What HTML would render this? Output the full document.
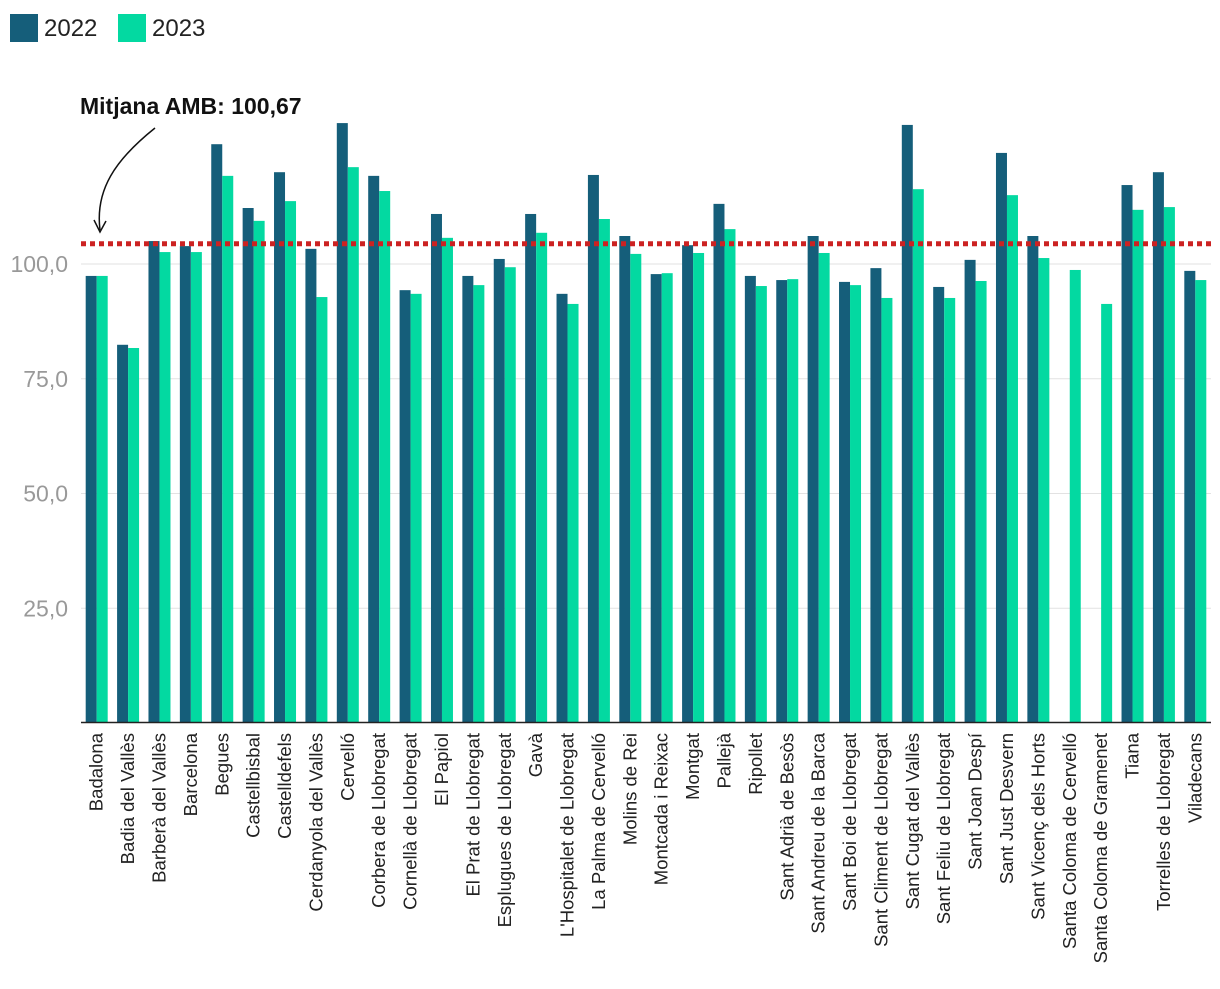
<!DOCTYPE html>
<html><head><meta charset="utf-8"><style>
body{margin:0;background:#fff;font-family:"Liberation Sans",sans-serif;}
svg text{font-family:"Liberation Sans",sans-serif;}
</style></head><body>
<svg id="chart" width="1220" height="984" xmlns="http://www.w3.org/2000/svg">
<g>
<rect x="10" y="14" width="28" height="28" fill="#155e7a"/>
<text x="44" y="36" font-size="24" fill="#222">2022</text>
<rect x="118" y="14" width="28" height="28" fill="#03d9a1"/>
<text x="152" y="36" font-size="24" fill="#222">2023</text>
</g>
<g id="grid"></g><g id="bars"></g><g id="xlabels"></g>
<line x1="81" y1="722.5" x2="1211" y2="722.5" stroke="#222" stroke-width="1.5"/>
<g id="mean"></g>
<text x="80" y="114" font-size="23" font-weight="bold" fill="#111">Mitjana AMB: 100,67</text>
<path d="M155,128 C115,160 95,190 100,230" fill="none" stroke="#111" stroke-width="1.5"/>
<path d="M94,220 L100,232 L106,221" fill="none" stroke="#111" stroke-width="1.5"/>
</svg>
<script>
const categories=["Badalona","Badia del Vallès","Barberà del Vallès","Barcelona","Begues","Castellbisbal","Castelldefels","Cerdanyola del Vallès","Cervelló","Corbera de Llobregat","Cornellà de Llobregat","El Papiol","El Prat de Llobregat","Esplugues de Llobregat","Gavà","L'Hospitalet de Llobregat","La Palma de Cervelló","Molins de Rei","Montcada i Reixac","Montgat","Pallejà","Ripollet","Sant Adrià de Besòs","Sant Andreu de la Barca","Sant Boi de Llobregat","Sant Climent de Llobregat","Sant Cugat del Vallès","Sant Feliu de Llobregat","Sant Joan Despí","Sant Just Desvern","Sant Vicenç dels Horts","Santa Coloma de Cervelló","Santa Coloma de Gramenet","Tiana","Torrelles de Llobregat","Viladecans"];
const values2022=[97.4,82.4,105,103.9,126.1,112.2,120,103.3,130.7,119.2,94.3,110.9,97.4,101.1,110.9,93.5,119.4,106.1,97.8,104.1,113.1,97.4,96.5,106.1,96.1,99.1,130.3,95,100.9,124.2,106.1,null,null,117.2,120,98.5];
const values2023=[97.4,81.7,102.6,102.6,119.2,109.4,113.7,92.8,121.1,115.9,93.5,105.7,95.4,99.3,106.8,91.3,109.8,102.2,98,102.4,107.6,95.2,96.7,102.4,95.4,92.6,116.3,92.6,96.3,115,101.3,98.7,91.3,111.8,112.4,96.5];
const yTicks=[25,50,75,100];
const yTickLabels=["25,0","50,0","75,0","100,0"];
const meanLineValue=104.4;
const NS="http://www.w3.org/2000/svg";
const x0=81,x1=1211,yBase=723,pxPer=4.59;
const y=v=>yBase-v*pxPer;
const step=(x1-x0)/categories.length;
const cx=i=>x0+step*(i+0.5);
function mk(tag,attrs,parent){const e=document.createElementNS(NS,tag);for(const k in attrs)e.setAttribute(k,attrs[k]);document.getElementById(parent).appendChild(e);return e;}
yTicks.forEach((t,i)=>{
 const l=mk('line',{x1:x0,x2:x1,y1:y(t),y2:y(t),stroke:'#e2e2e2','stroke-width':1},'grid');
 
 
 const tx=mk('text',{x:68,y:y(t)+8,'text-anchor':'end','font-size':23,fill:'#999'},'grid');
 tx.textContent=yTickLabels[i];
 
 
});
const bw=11;
categories.forEach((c,i)=>{
 if(values2022[i]!=null){const r=mk('rect',{x:cx(i)-bw,y:y(values2022[i]),width:bw,height:values2022[i]*pxPer,fill:'#155e7a'},'bars');
 
 }
 if(values2023[i]!=null){const r=mk('rect',{x:cx(i),y:y(values2023[i]),width:bw,height:values2023[i]*pxPer,fill:'#03d9a1'},'bars');
 
 }
 const t=mk('text',{transform:`translate(${cx(i)+6},733) rotate(-90)`,'text-anchor':'end','font-size':18.5,fill:'#222'},'xlabels');
 t.textContent=c;
 
 
});
const ml=mk('line',{x1:x0,x2:x1,y1:y(meanLineValue),y2:y(meanLineValue),stroke:'#cc2222','stroke-width':5,'stroke-dasharray':'5 4'},'mean');


</script>
</body></html>
